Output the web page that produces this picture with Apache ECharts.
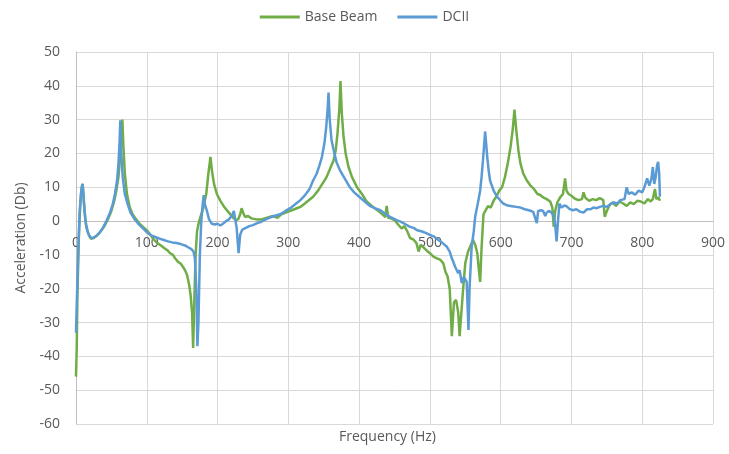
<!DOCTYPE html>
<html>
<head>
<meta charset="utf-8">
<script src="https://cdn.jsdelivr.net/npm/echarts@6/dist/echarts.min.js"></script>
<style>html,body{margin:0;padding:0;background:#fff;}#c{width:729px;height:454px;}</style>
</head>
<body>
<div id="c"></div>
<script>
const seriesNames = ['Base Beam', 'DCII'];
const xTicks = {min: 0, max: 900, interval: 100};
const yTicks = {min: -60, max: 50, interval: 10};

const baseBeamX = [0,1,2,4,6,8,9.5,11,13,15,18,21,25,30,35,40,45,50,54,57,60,62,64,65.5,67,69,72,76,80,85,90,95,100,105,110,115,120,125,130,133,137,140,144,148,151,154,157,160,162,164,165.5,167,169,171,174,177,180,184,187,190,192,195,199,204,210,216,222,226,229,232,234,236,239,243,248,255,262,270,278,285,290,297,305,312,317,322,328,335,342,348,354,360,364,367,369.5,372,373.7,375.5,378,381,385,390,397,404,411,418,424,430,434,437,439,441,445,450,455,460,464,468,472,477,481,484,487,492,497,500,505,510,515,519,522,525,528,531,534,537,540,542,544,547,550,554,558,561,564,567,569,571,573,575.7,578,582,586,590,594.6,598,602,606,610,614,617,619.5,622,625,628,632,637,642,647,652,656,660,665,670,673,675,677,680,684,688,691,693,696,700,705,710,715,717,720,725,730,735,740,745,747,750,754,758,763,768,773,778,783,788,793,798,803,808,812,815,818,820,823,825];
const baseBeamY = [-46,-38,-22,-5,5,10,11,6,1,-2,-4,-5.2,-5,-4.2,-3,-1.5,0.5,3,6,9,13,18,24,30,22,14,8,4,2,0.5,-0.8,-1.8,-2.7,-4,-5.5,-6.5,-7.2,-8,-8.8,-9.5,-10,-11,-12,-12.6,-13.5,-14.5,-16,-19,-22,-27,-37.5,-25,-10,-3,0,2,4,8,14,19,15,11,8,6,4,2.5,1,0.3,0.5,2,3.8,2.5,1.2,1.5,0.8,0.5,0.5,1,1.5,1,2,2.6,3.2,3.8,4.2,5,6,7.2,9,11,13,16,18,21,26,33,41.4,32,25,20,16,13,10,8,5.7,4.5,3.5,2.5,1.8,1.2,4.5,1,0.8,0.3,-1,-2.2,-1.5,-3,-5,-5.5,-6.5,-9,-7,-8,-9,-9.5,-10.5,-11,-11.5,-12.5,-15,-16.4,-20,-34,-24,-23.3,-27,-34,-34,-20,-12.4,-9,-7,-5.6,-7,-9.5,-14,-18,-8,2,2.5,4.4,4,6,7.5,9,10,13,17,22,27,33,27,21,17,14,12,10.5,9.5,8,7.7,7,6.5,5.8,4,-1.7,3,5.5,7,8,12.6,9,8,7.5,6.6,6.2,6.5,8.5,6.8,6,6.5,6.2,6.8,6.2,1.3,3,4.8,5.5,4.5,5.8,5.2,4.5,5.5,5,6,5.8,5.2,6.5,5.8,6.5,9.5,6.5,7,6];

const dciiX = [0,1,3,5,7,9,10.5,12,14,17,20,24,28,33,38,43,48,52,55,58,60,61.5,62.6,64,66,69,73,77,82,88,95,100,106,112,118,124,130,136,142,148,154,159,163,166,168,170,171.5,173,175,177,179,180.5,182,185,188,192,196,200,204,208,212,216,220,223,225,227,229.7,232,235,240,245,250,256,262,268,274,280,288.5,296,304,311,317,323,330,335,340,344,347.5,351,353.5,355.5,356.8,358.5,361,364,368,373,380,387,393,400,408,415,422,430,438,446,453,460,466,472,477,482,488,494,500,506,512,518,524,528,531,533,535.6,538,540,542,545,548,550,552,554.5,556,559,562,564,568.6,571,573,575,576.5,578,579.5,581,583,585,590,595,600,603.5,610,616,622,628,634,640,646,648,651,653,657,660,663,665,668,672,675,677,679,681,683,686,690,693,697,702,707,712,717,722,727,731,736,740,745,750,755,760,765,769,775,778,781,785,790,795,800,803,807,810,813,815,817,819,821,822.5,824,825];
const dciiY = [-33,-25,-10,2,8,11,8,3,-1,-3.5,-4.8,-5,-4.5,-3.5,-2,0,2.5,5,8,12,17,23,29.8,20,13,8,5,2.5,0.8,-0.8,-2.2,-3.3,-4.2,-4.7,-5.2,-5.6,-6,-6.3,-6.5,-6.8,-7.2,-7.8,-8.3,-9,-11,-20,-37,-30,-10,0,5,7.7,5,3,0.5,-0.8,-1,-0.8,-1.3,-0.7,0,0.5,1.5,3,3.3,-2,-9.5,-4,-2.5,-2,-1.5,-1.2,-0.6,-0.2,0.5,1,1.5,2,3,4,5.2,6.2,7.5,9.5,12,14,16.5,19,23,27.8,33,38,30,24,21,17.5,15,12.5,10,8.5,7.2,5.8,4.5,3.8,3.2,2,1,0.3,-0.3,-1,-1.7,-2,-2.7,-3,-3.5,-4.1,-4.6,-5.6,-6.5,-7.6,-9,-11,-12,-13.5,-13,-15.4,-14.5,-18.3,-16.5,-17,-18,-32.2,-20,-7.6,-3,1.3,6.2,9,13,18,22,26.5,23,19,15,12,9,7.2,6,5.2,4.6,4.4,4.2,4,3.5,3.2,2.7,3,-0.6,3,3.2,3,1.5,2.5,3,2.5,1.5,-1,-6,0,5.2,4,4.6,4.4,3.6,3.2,3.5,2.8,2.5,3.5,3.5,4,3.8,4.2,4.5,4.2,5,5.5,5.2,6.2,6.5,10,8,8.5,7.8,9,8.5,10,12.6,10.5,12.5,16,11,13,16.5,17.5,14,7.2];

function pairs(xs, ys) { return xs.map((x, i) => [x, ys[i]]); }

const GRID = {left: 76, right: 16, top: 52, bottom: 30};
const plotH = 454 - GRID.top - GRID.bottom;
// shift the x axis from the bottom of the grid up to the y = 0 line
const zeroOffset = -plotH * (0 - yTicks.min) / (yTicks.max - yTicks.min);

const chart = echarts.init(document.getElementById('c'), null, {renderer: 'canvas'});
const FONT = 'Open Sans';
const TXT = '#595959';
chart.setOption({
  animation: false,
  backgroundColor: '#ffffff',
  textStyle: {fontFamily: FONT},
  legend: {
    top: 5,
    left: 'center',
    itemWidth: 40,
    itemHeight: 3,
    itemGap: 20,
    icon: 'rect',
    textStyle: {color: TXT, fontSize: 14, fontFamily: FONT},
    data: seriesNames
  },
  grid: Object.assign({containLabel: false}, GRID),
  xAxis: {
    type: 'value',
    min: xTicks.min, max: xTicks.max, interval: xTicks.interval,
    position: 'bottom',
    offset: zeroOffset,
    z: 0,
    axisLine: {show: true, onZero: false, lineStyle: {color: '#bfbfbf', width: 1}},
    axisTick: {show: false},
    axisLabel: {color: TXT, fontSize: 14, fontFamily: FONT, margin: 15},
    splitLine: {show: true, lineStyle: {color: '#d9d9d9', width: 1}}
  },
  yAxis: {
    type: 'value',
    min: yTicks.min, max: yTicks.max, interval: yTicks.interval,
    name: 'Acceleration (Db)',
    nameLocation: 'middle',
    nameGap: 48,
    nameTextStyle: {color: TXT, fontSize: 14, fontFamily: FONT},
    axisLine: {show: true, onZero: false, lineStyle: {color: '#bfbfbf', width: 1}},
    axisTick: {show: false},
    axisLabel: {color: TXT, fontSize: 14, fontFamily: FONT, margin: 16},
    splitLine: {show: true, lineStyle: {color: '#d9d9d9', width: 1}}
  },
  graphic: [{
    type: 'text',
    left: 339,
    top: 430,
    style: {text: 'Frequency (Hz)', fill: TXT, font: '14px "Open Sans"'}
  }],
  series: [
    {
      name: seriesNames[0], type: 'line', data: pairs(baseBeamX, baseBeamY),
      showSymbol: false, symbol: 'none', z: 3,
      lineStyle: {color: '#70ad47', width: 2.5}, itemStyle: {color: '#70ad47'}
    },
    {
      name: seriesNames[1], type: 'line', data: pairs(dciiX, dciiY),
      showSymbol: false, symbol: 'none', z: 4,
      lineStyle: {color: '#5b9bd5', width: 2.5}, itemStyle: {color: '#5b9bd5'}
    }
  ]
});
</script>
</body>
</html>
